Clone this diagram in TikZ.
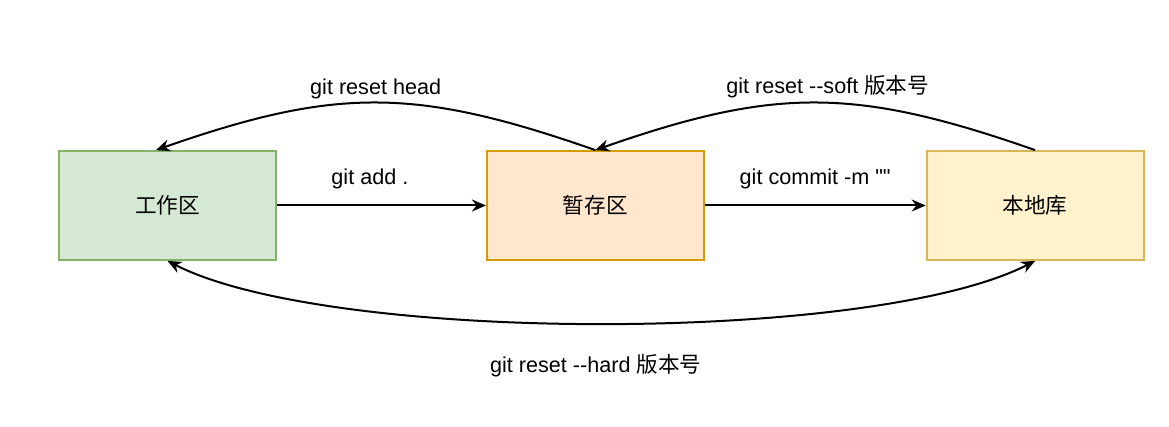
\documentclass[tikz,border=0pt]{standalone}
\usepackage{fontspec}
\newfontfamily\gitfont{Liberation Sans}
\newfontfamily\cjk{Noto Sans CJK SC}
\usetikzlibrary{positioning,arrows.meta}
\definecolor{gitGreen}{RGB}{213,232,212}
\definecolor{gitGreenLine}{RGB}{130,179,102}
\definecolor{gitOrange}{RGB}{255,230,204}
\definecolor{gitOrangeLine}{RGB}{215,155,0}
\definecolor{gitYellow}{RGB}{255,242,204}
\definecolor{gitYellowLine}{RGB}{214,182,86}
\tikzset{
    base/.style={font=\gitfont\fontsize{10.8}{13}\selectfont, align=center},
    area/.style={base, rectangle, line width=0.9pt, minimum width=108.5pt,
                 minimum height=54.5pt},
    flow/.style={-{Stealth[length=7pt,width=6pt]}, line width=1pt, color=black},
    cmd/.style={base, inner sep=1pt}
}

\begin{document}
\begin{tikzpicture}[x=0.5pt, y=-0.5pt]
  \useasboundingbox (0,0) rectangle (1169,427);

  % the three areas
  \node[area, fill=gitGreen, draw=gitGreenLine] (work) at (167.5,205.5) {\cjk 工作区};
  \node[area, fill=gitOrange, draw=gitOrangeLine, right=104.5pt of work] (stage) {\cjk 暂存区};
  \node[area, fill=gitYellow, draw=gitYellowLine, right=110.5pt of stage] (repo) {\cjk 本地库};

  % forward
  \draw[flow] (work) -- node[cmd, midway, yshift=13.5pt, xshift=-5.75pt] {git add .} (stage);
  \draw[flow] (stage) -- node[cmd, midway, yshift=13.5pt] {git commit -m ""} (repo);

  % back over the top
  \draw[flow] (stage.north) .. controls +(-180,-63) and +(180,-63) .. ([xshift=-5.75pt]work.north)
    node[cmd, midway, yshift=7pt] {git reset head};
  \draw[flow] (repo.north) .. controls +(-180,-63) and +(180,-63) .. (stage.north)
    node[cmd, midway, yshift=8pt, xshift=6.25pt] {git reset -{}-soft {\cjk 版本号}};

  % both ways underneath
  \draw[flow, {Stealth[length=7pt,width=6pt]}-{Stealth[length=7pt,width=6pt]}]
    (work.south) .. controls +(162,83) and +(-162,83) .. (repo.south)
    node[cmd, midway, yshift=-21pt, xshift=-2.75pt] {git reset -{}-hard {\cjk 版本号}};
\end{tikzpicture}
\end{document}
